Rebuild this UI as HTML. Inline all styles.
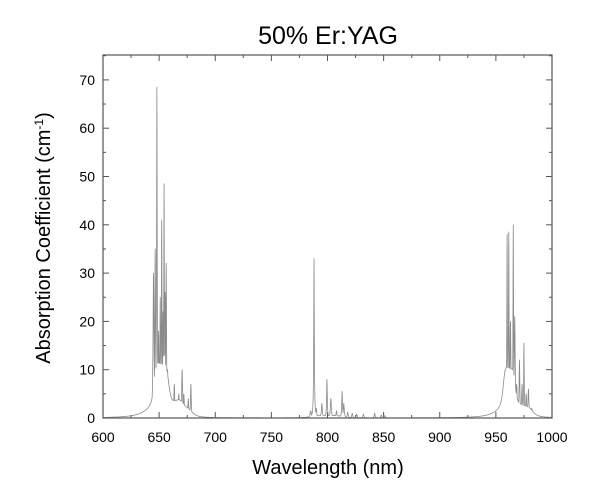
<!DOCTYPE html>
<html><head><meta charset="utf-8"><style>
html,body{margin:0;padding:0;background:#fff;}
svg{display:block;font-family:"Liberation Sans",Arial,sans-serif;}
</style></head><body>
<svg id="s" width="600" height="500" viewBox="0 0 600 500" xmlns="http://www.w3.org/2000/svg">
<rect width="600" height="500" fill="#fff"/>
<text x="328" y="44" font-size="25" text-anchor="middle" fill="#000">50% Er:YAG</text>
<g id="ticks" stroke="#555" stroke-width="1"></g>
<path id="p" fill="none" stroke="#8a8a8a" stroke-width="0.8" stroke-linejoin="round"/>
<rect x="103" y="55" width="449" height="363" fill="none" stroke="#555" stroke-width="1.2"/>
<g id="lab" font-size="14" fill="#000"></g>
<text x="328" y="474" font-size="20" text-anchor="middle">Wavelength (nm)</text>
<text transform="translate(50,238) rotate(-90)" font-size="20" text-anchor="middle">Absorption Coefficient (cm<tspan dy="-7" font-size="12">-1</tspan><tspan dy="7">)</tspan></text>
</svg>
<script>
var X0=103,X1=552,Y0=418,K=4.83;
function xs(w){return X0+(w-600)*(X1-X0)/400;}
function ys(v){return Y0-v*K;}
var t='',l='';
for(var w=600;w<=1000;w+=25){var x=xs(w),L=(w%50==0)?6:3;
t+='<line x1="'+x+'" y1="418" x2="'+x+'" y2="'+(418-L)+'"/><line x1="'+x+'" y1="55" x2="'+x+'" y2="'+(55+L)+'"/>';
if(w%50==0)l+='<text x="'+x+'" y="442" text-anchor="middle">'+w+'</text>';}
for(var v=0;v<=75;v+=5){var y=ys(v),L=(v%10==0)?6:3;
t+='<line x1="103" y1="'+y+'" x2="'+(103+L)+'" y2="'+y+'"/><line x1="552" y1="'+y+'" x2="'+(552-L)+'" y2="'+y+'"/>';
if(v%10==0)l+='<text x="95" y="'+(y+5)+'" text-anchor="end">'+v+'</text>';}
document.getElementById('ticks').innerHTML=t;document.getElementById('lab').innerHTML=l;
var P=[[645,30,.5],[646.5,35,.4],[648,68.5,.3],[649.5,18,.5],[651,25,.4],[652.3,41,.3],[653.5,22,.4],[654.4,48.5,.3],[655.3,26,.4],[656.3,32,.35],[657.5,10,.6],[659,5,.8],[663.5,7,.5],[667.5,5,.5],[670.5,10,.5],[672,5,.5],[676,4,.5],[678.3,7,.4],
[785,1.5,.6],[788,33,.3],[790,2,.5],[795,3,.5],[799.5,8,.35],[803,4,.5],[808,1.5,.5],[813,5.5,.4],[814.5,3,.5],[818,1.2,.5],[822,1,.5],[826,.8,.5],[832,.8,.5],[842,1,.5],[848,.6,.5],[851,.5,.5],
[960,38,.3],[961.5,38.5,.3],[963,20,.5],[965.5,40,.3],[966.8,21,.5],[968.5,7,.6],[971,12,.4],[973.3,7,.5],[975,15.5,.3],[977,5,.5],[979,6,.5],[982,2,.6]];
// [center, amp, halfwidth, power]
var B=[[652,9,6.5,6],[646,2.5,10,2],[664,2,8,4],[672,1.5,8,4],[962,8,5.5,6],[958,2.5,9,2],[975,2,8,4],[800,.5,15,4]];
var d='';
for(var w=600;w<=1000;w+=0.1){var v=0,b=0;
for(var i=0;i<P.length;i++){var q=(w-P[i][0])/P[i][2];v=Math.max(v,P[i][1]/(1+q*q));}
for(var i=0;i<B.length;i++){var q=Math.abs(w-B[i][0])/B[i][2];b+=B[i][1]/(1+Math.pow(q,B[i][3]));}
v=Math.max(v,b);
d+=(d?'L':'M')+xs(w).toFixed(2)+' '+ys(v).toFixed(2);}
document.getElementById('p').setAttribute('d',d);
</script>
</body></html>
